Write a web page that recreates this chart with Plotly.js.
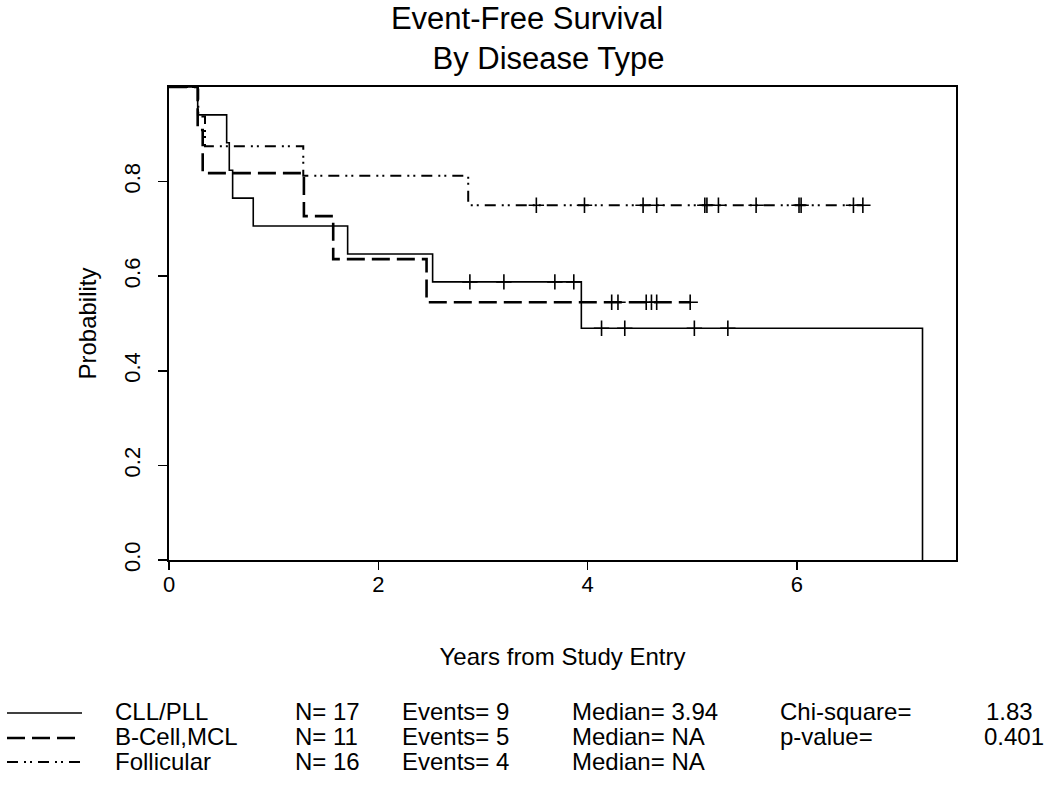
<!DOCTYPE html>
<html>
<head>
<meta charset="utf-8">
<script src="https://cdn.plot.ly/plotly-3.0.1.min.js"></script>
<style>html,body{margin:0;padding:0;background:#fff;}#chart{width:1050px;height:789px;}</style>
</head>
<body>
<div id="chart"></div>
<script>
// ---- Data ----
const groupNames = ['CLL/PLL', 'B-Cell,MCL', 'Follicular'];
const groupN = [17, 11, 16];
const groupEvents = [9, 5, 4];
const groupMedian = ['3.94', 'NA', 'NA'];
const chiSquare = '1.83';
const pValue = '0.401';
const titleLines = ['Event-Free Survival', '\u00a0\u00a0\u00a0\u00a0\u00a0By Disease Type'];

// event times (years) and survival after each event
const cllTimes = [0.274, 0.551, 0.576, 0.608, 0.805, 1.707, 2.519, 3.94, 7.20];
const cllSurv  = [0.941, 0.882, 0.824, 0.765, 0.706, 0.647, 0.588, 0.490, 0.000];
const cllCensor = [2.875, 3.20, 3.687, 3.868, 4.133, 4.355, 5.02, 5.34];

const bcellTimes = [0.274, 0.322, 1.289, 1.569, 2.461];
const bcellSurv  = [0.909, 0.818, 0.727, 0.636, 0.545];
const bcellCensor = [4.23, 4.29, 4.56, 4.61, 4.66, 4.98];

const follTimes = [0.28, 0.344, 1.283, 2.859];
const follSurv  = [0.9375, 0.875, 0.8125, 0.75];
const follCensor = [3.51, 3.97, 4.53, 4.66, 5.12, 5.14, 5.25, 5.61, 6.02, 6.04, 6.54, 6.63];

const xTicks = [0, 2, 4, 6];
const yTicks = [0, 0.2, 0.4, 0.6, 0.8];
const yTickText = ['0.0', '0.2', '0.4', '0.6', '0.8'];

// ---- Styles ----
const FONT = 'Liberation Sans, Arial, Helvetica, sans-serif';
const styles = [
  {color: '#000', width: 1.6, dash: 'solid'},
  {color: '#000', width: 2.6, dash: '18px,7px'},
  {color: '#000', width: 2.0, dash: '11px,6px,2px,4px,2px,6px'}
];

function survAt(times, surv, t) {
  let s = 1;
  for (let i = 0; i < times.length; i++) if (times[i] <= t) s = surv[i];
  return s;
}
function curve(times, surv, censor) {
  const x = [0].concat(times);
  const y = [1].concat(surv);
  const lastC = censor.length ? censor[censor.length - 1] : 0;
  if (lastC > times[times.length - 1]) { x.push(lastC); y.push(surv[surv.length - 1]); }
  return {x, y};
}

const groups = [
  [cllTimes, cllSurv, cllCensor],
  [bcellTimes, bcellSurv, bcellCensor],
  [follTimes, follSurv, follCensor]
];

const traces = [];
groups.forEach((g, i) => {
  const c = curve(g[0], g[1], g[2]);
  traces.push({
    x: c.x, y: c.y, type: 'scatter', mode: 'lines', line: {shape: 'hv', color: styles[i].color, width: styles[i].width, dash: styles[i].dash},
    name: groupNames[i], showlegend: false, hoverinfo: 'skip'
  });
  traces.push({
    x: g[2], y: g[2].map(t => survAt(g[0], g[1], t)), type: 'scatter', mode: 'markers',
    marker: {symbol: 'cross-thin', size: 11, color: '#000', line: {color: '#000', width: 1.6}},
    showlegend: false, hoverinfo: 'skip'
  });
});

// ---- Legend table (paper coordinates relative to the plot box) ----
const L = 169, R = 956, T = 87, B = 560;
const px = v => (v - L) / (R - L);
const py = v => (B - v) / (B - T);
const rowY = [711, 736, 761];
const lineY = [713, 738, 762];
const colX = [113, 293, 400, 570];
const annotations = [];
const shapes = [];
const tfont = {family: FONT, size: 24, color: '#000'};
groupNames.forEach((nm, i) => {
  shapes.push({type: 'line', xref: 'paper', yref: 'paper', x0: px(7), x1: px(82), y0: py(lineY[i]), y1: py(lineY[i]),
    line: {color: '#000', width: styles[i].width, dash: styles[i].dash}});
  const cells = [nm, 'N= ' + groupN[i], 'Events= ' + groupEvents[i], 'Median= ' + groupMedian[i]];
  cells.forEach((c, j) => annotations.push({text: c, xref: 'paper', yref: 'paper', x: px(colX[j]), y: py(rowY[i]),
    xanchor: 'left', yanchor: 'middle', showarrow: false, font: tfont}));
});
annotations.push({text: 'Chi-square=', xref: 'paper', yref: 'paper', x: px(778), y: py(rowY[0]), xanchor: 'left', yanchor: 'middle', showarrow: false, font: tfont});
annotations.push({text: chiSquare, xref: 'paper', yref: 'paper', x: px(984), y: py(rowY[0]), xanchor: 'left', yanchor: 'middle', showarrow: false, font: tfont});
annotations.push({text: 'p-value=', xref: 'paper', yref: 'paper', x: px(778), y: py(rowY[1]), xanchor: 'left', yanchor: 'middle', showarrow: false, font: tfont});
annotations.push({text: pValue, xref: 'paper', yref: 'paper', x: px(982), y: py(rowY[1]), xanchor: 'left', yanchor: 'middle', showarrow: false, font: tfont});

const layout = {
  width: 1050, height: 789,
  margin: {l: L, r: 1050 - R, t: T, b: 789 - B},
  paper_bgcolor: '#fff', plot_bgcolor: '#fff',
  font: {family: FONT, color: '#000'},
  title: {text: titleLines.join('<br>'), font: {family: FONT, size: 31, color: '#000'}, xref: 'container', x: 527 / 1050, xanchor: 'center', yref: 'container', y: 1 - 29 / 789, yanchor: 'top'},
  xaxis: {
    range: [0, 7.52], tickvals: xTicks, ticktext: xTicks.map(String), ticks: 'outside', ticklen: 8, tickwidth: 1.5, tickcolor: '#000',
    showline: true, mirror: true, linecolor: '#000', linewidth: 1.6, showgrid: false, zeroline: false,
    ticklabelstandoff: -4,
    tickfont: {family: FONT, size: 22, color: '#000'},
    title: {text: 'Years from Study Entry', font: {family: FONT, size: 24, color: '#000'}, standoff: 52}
  },
  yaxis: {
    range: [0, 1], tickvals: yTicks, ticktext: yTickText, tickangle: -90, ticks: 'outside', ticklen: 9, tickwidth: 1.5, tickcolor: '#000',
    showline: true, mirror: true, linecolor: '#000', linewidth: 1.6, showgrid: false, zeroline: false,
    ticklabelstandoff: 10,
    tickfont: {family: FONT, size: 22, color: '#000'},
    title: {text: 'Probability', font: {family: FONT, size: 24, color: '#000'}, standoff: 16}
  },
  shapes: shapes,
  annotations: annotations,
  showlegend: false
};

Plotly.newPlot('chart', traces, layout, {displayModeBar: false, staticPlot: true});
</script>
</body>
</html>
